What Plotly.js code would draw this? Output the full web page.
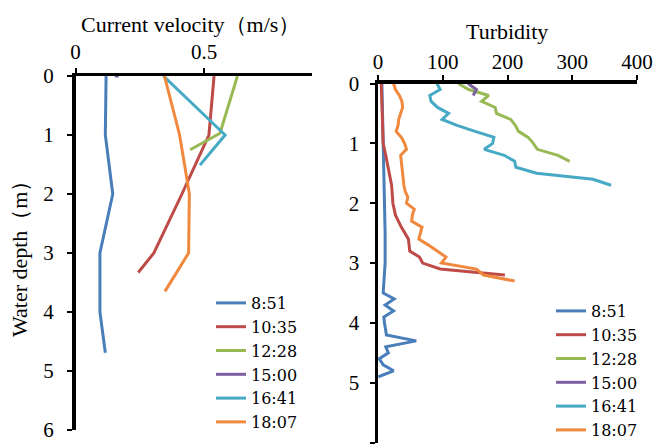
<!DOCTYPE html>
<html>
<head>
<meta charset="utf-8">
<script src="https://cdn.plot.ly/plotly-3.0.1.min.js"></script>
<style>html,body{margin:0;padding:0;background:#fff;}#chart{width:665px;height:447px;}</style>
</head>
<body>
<div id="chart"></div>
<script>
// Series names (observation times)
const seriesNames = ['8:51', '10:35', '12:28', '15:00', '16:41', '18:07'];
const seriesColors = ['#4A7EBB', '#BE4B48', '#98B954', '#7D60A0', '#46AAC5', '#F0883E'];

// Current velocity (m/s) vs water depth (m)
const vel_0851 = [0.119, 0.116, 0.145, 0.095, 0.095, 0.116];
const velDepth_0851 = [0, 1, 2, 3, 4, 4.69];
const vel_1035 = [0.539, 0.519, 0.414, 0.305, 0.244];
const velDepth_1035 = [0, 1, 2, 3, 3.33];
const vel_1228 = [0.63, 0.562, 0.446];
const velDepth_1228 = [0, 0.97, 1.25];
const vel_1500 = [0.153, 0.168];
const velDepth_1500 = [0, 0];
const vel_1641 = [0.342, 0.582, 0.484];
const velDepth_1641 = [0, 1, 1.51];
const vel_1807 = [0.346, 0.405, 0.443, 0.44, 0.348];
const velDepth_1807 = [0, 1, 2, 3, 3.65];

// Turbidity vs water depth (m)
const turbDepth_0851 = [0, 0.5, 1, 1.5, 2, 2.5, 3, 3.5, 3.6, 3.7, 3.8, 3.9, 4.0, 4.1, 4.2, 4.3, 4.4, 4.5, 4.6, 4.7, 4.8, 4.9];
const turb_0851 = [6, 7, 8.5, 10, 11, 11, 11, 8, 25, 11, 24, 9, 10, 11, 13, 59, 12, 16, 2, 8, 24, 0.5];
const turbDepth_1035 = [0, 0.5, 1, 1.2, 1.5, 1.7, 2, 2.2, 2.4, 2.6, 2.8, 2.9, 3.0, 3.1, 3.15, 3.2];
const turb_1035 = [5, 6.5, 8, 12, 17, 21, 23, 27, 36, 47, 49, 64, 69, 96, 145, 196];
const turbDepth_1228 = [0, 0.1, 0.2, 0.3, 0.4, 0.5, 0.6, 0.7, 0.8, 0.9, 1.0, 1.1, 1.2, 1.3];
const turb_1228 = [124, 140, 171, 160, 181, 183, 205, 212, 217, 232, 240, 246, 278, 296];
const turbDepth_1500 = [0, 0.1, 0.2];
const turb_1500 = [139, 152, 147];
const turbDepth_1641 = [0, 0.1, 0.2, 0.3, 0.4, 0.5, 0.6, 0.7, 0.8, 0.9, 1.0, 1.1, 1.2, 1.3, 1.4, 1.5, 1.6, 1.7];
const turb_1641 = [91, 96, 80, 82, 92, 109, 99, 122, 150, 179, 177, 164, 195, 211, 213, 245, 332, 360];
const turbDepth_1807 = [0, 0.1, 0.2, 0.3, 0.4, 0.5, 0.6, 0.7, 0.8, 0.9, 1.0, 1.1, 1.2, 1.3, 1.4, 1.5, 1.6, 1.7, 1.8, 1.9, 2.0, 2.1, 2.2, 2.3, 2.4, 2.5, 2.6, 2.7, 2.8, 2.9, 3.0, 3.1, 3.2, 3.3];
const turb_1807 = [24, 27, 33, 37, 38, 35, 32, 31, 28, 36, 41, 44, 35, 36, 37, 37, 38, 40, 42, 46, 44, 56, 53, 52, 68, 65, 63, 78, 91, 105, 98, 152, 163, 211];

// Tick values / labels
const velTicks = [0, 0.5];
const velTickLabels = ['0', '0.5'];
const turbTicks = [0, 100, 200, 300, 400];
const depthTicks = [0, 1, 2, 3, 4, 5, 6];

const velX = [vel_0851, vel_1035, vel_1228, vel_1500, vel_1641, vel_1807];
const velY = [velDepth_0851, velDepth_1035, velDepth_1228, velDepth_1500, velDepth_1641, velDepth_1807];
const turbX = [turb_0851, turb_1035, turb_1228, turb_1500, turb_1641, turb_1807];
const turbY = [turbDepth_0851, turbDepth_1035, turbDepth_1228, turbDepth_1500, turbDepth_1641, turbDepth_1807];

const FONT = 'Liberation Serif';
const LFONT = 'DejaVu Serif';
const traces = [];
seriesNames.forEach((n, i) => {
  traces.push({x: velX[i], y: velY[i], type: 'scatter', mode: 'lines', name: n,
    line: {color: seriesColors[i], width: 3}, xaxis: 'x', yaxis: 'y', legend: 'legend'});
});
seriesNames.forEach((n, i) => {
  traces.push({x: turbX[i], y: turbY[i], type: 'scatter', mode: 'lines', name: n,
    line: {color: seriesColors[i], width: 3}, xaxis: 'x2', yaxis: 'y2', legend: 'legend2'});
});

const W = 665, H = 447;
const axisCommon = {showline: true, linecolor: '#000', linewidth: 3.5, ticks: 'outside', ticklen: 5,
  tickwidth: 2, tickcolor: '#000', showgrid: false, zeroline: false, automargin: false,
  tickfont: {family: FONT, size: 21, color: '#000'}};

const layout = {
  width: W, height: H,
  margin: {l: 0, r: 0, t: 0, b: 0},
  paper_bgcolor: '#fff', plot_bgcolor: '#fff',
  font: {family: FONT, size: 20, color: '#000'},
  xaxis: Object.assign({}, axisCommon, {domain: [75.5 / W, 312 / W], range: [0, 0.92], side: 'top',
    tickvals: velTicks, ticktext: velTickLabels, anchor: 'y', ticklabelstandoff: 0}),
  yaxis: Object.assign({}, axisCommon, {domain: [(H - 430) / H, (H - 76) / H], range: [6, 0],
    tickvals: depthTicks, anchor: 'x', ticklabelstandoff: 9}),
  xaxis2: Object.assign({}, axisCommon, {domain: [378 / W, 637 / W], range: [0, 400], side: 'top',
    tickvals: turbTicks, anchor: 'y2', ticklabelstandoff: -2}),
  yaxis2: Object.assign({}, axisCommon, {domain: [(H - 442.6) / H, (H - 83.5) / H], range: [6, 0],
    tickvals: depthTicks, anchor: 'x2', ticklabelstandoff: 6}),
  legend: {x: 211 / W, y: (H - 286) / H, xanchor: 'left', yanchor: 'top', bgcolor: 'rgba(0,0,0,0)',
    font: {family: LFONT, size: 16, color: '#000'}, tracegroupgap: 0},
  legend2: {x: 551 / W, y: 0, xanchor: 'left', yanchor: 'bottom', bgcolor: 'rgba(0,0,0,0)',
    font: {family: LFONT, size: 16, color: '#000'}, tracegroupgap: 0},
  showlegend: true,
  annotations: [
    {text: 'Current velocity（m/s）', x: 191 / W, y: (H - 25) / H, xref: 'paper', yref: 'paper',
      xanchor: 'center', yanchor: 'middle', showarrow: false, font: {family: FONT, size: 22, color: '#000'}},
    {text: 'Turbidity', x: 507 / W, y: (H - 32) / H, xref: 'paper', yref: 'paper',
      xanchor: 'center', yanchor: 'middle', showarrow: false, font: {family: FONT, size: 22, color: '#000'}},
    {text: 'Water depth（m）', x: 20 / W, y: (H - 254) / H, xref: 'paper', yref: 'paper',
      xanchor: 'center', yanchor: 'middle', showarrow: false, textangle: -90,
      font: {family: FONT, size: 22, color: '#000'}}
  ]
};

Plotly.newPlot('chart', traces, layout, {staticPlot: true, displayModeBar: false});
</script>
</body>
</html>
